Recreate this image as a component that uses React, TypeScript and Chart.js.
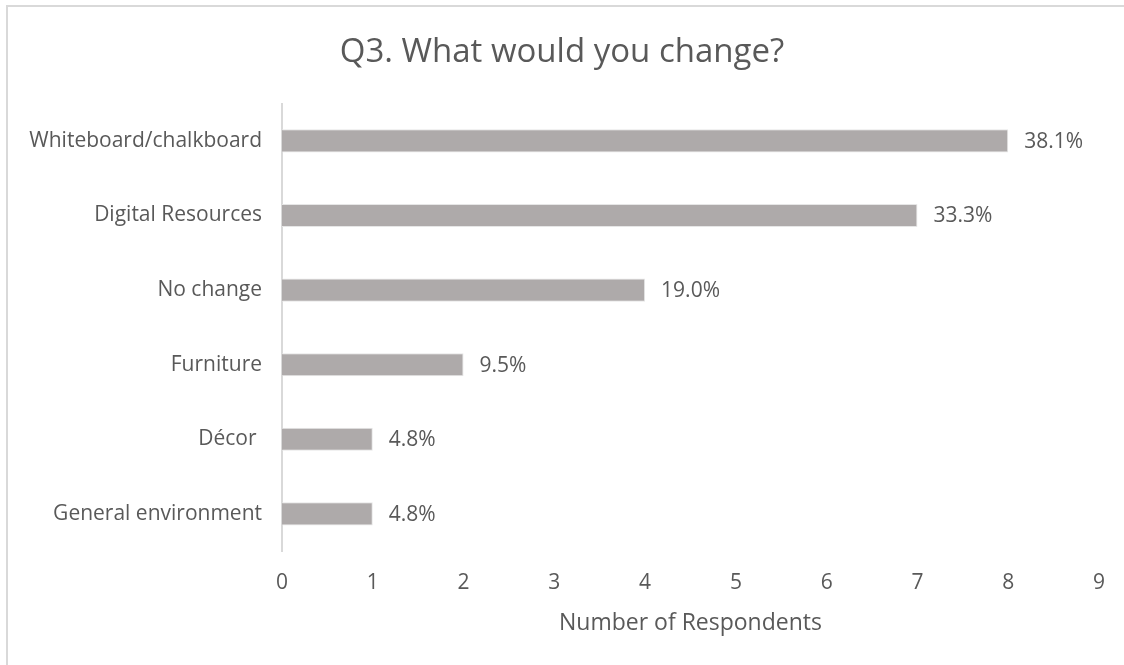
import React, { useEffect, useRef } from "react";
import { Chart, registerables } from "chart.js";

Chart.register(...registerables);

const categories = [
  "Whiteboard/chalkboard",
  "Digital Resources",
  "No change",
  "Furniture",
  "Décor ",
  "General environment",
];
const respondents = [8, 7, 4, 2, 1, 1];
const percentLabels = ["38.1%", "33.3%", "19.0%", "9.5%", "4.8%", "4.8%"];
const xTicks = [0, 1, 2, 3, 4, 5, 6, 7, 8, 9];

const FONT = "'Open Sans', 'DejaVu Sans', sans-serif";
const TEXT = "#595959";

const frame = {
  id: "frame",
  beforeDraw(chart: any) {
    const ctx = chart.ctx;
    ctx.save();
    ctx.fillStyle = "#ffffff";
    ctx.fillRect(0, 0, chart.width, chart.height);
    ctx.strokeStyle = "#D9D9D9";
    ctx.lineWidth = 2;
    ctx.beginPath();
    ctx.moveTo(7, chart.height);
    ctx.lineTo(7, 6);
    ctx.lineTo(chart.width, 6);
    ctx.stroke();
    ctx.restore();
  },
};

const valueLabels = {
  id: "valueLabels",
  afterDatasetsDraw(chart: any) {
    const ctx = chart.ctx;
    const meta = chart.getDatasetMeta(0);
    ctx.save();
    ctx.fillStyle = TEXT;
    ctx.font = `21px ${FONT}`;
    ctx.textAlign = "left";
    ctx.textBaseline = "middle";
    meta.data.forEach((bar: any, i: number) => {
      ctx.fillText(percentLabels[i], bar.x + 16, bar.y + 1);
    });
    ctx.restore();
  },
};

export default function App() {
  const ref = useRef<HTMLCanvasElement>(null);
  useEffect(() => {
    document.body.style.margin = "0";
    const chart = new Chart(ref.current!, {
      type: "bar",
      data: {
        labels: categories,
        datasets: [
          {
            data: respondents,
            backgroundColor: "#AEAAAA",
            borderColor: "#E6E6E6",
            borderWidth: 1,
            barPercentage: 0.31,
            categoryPercentage: 1,
          },
        ],
      },
      options: {
        indexAxis: "y",
        animation: false,
        responsive: false,
        layout: { padding: { left: 20, right: 20, top: 0, bottom: 28 } },
        plugins: {
          legend: { display: false },
          tooltip: { enabled: false },
          title: {
            display: true,
            text: "Q3. What would you change?",
            color: TEXT,
            font: { family: FONT, size: 33, weight: "normal" },
            padding: { top: 33, bottom: 31 },
          },
        },
        scales: {
          x: {
            min: 0,
            max: 9,
            afterBuildTicks(scale: any) {
              scale.ticks = xTicks.map((v) => ({ value: v }));
            },
            grid: { display: false, drawTicks: false },
            border: { display: false },
            ticks: {
              color: TEXT,
              font: { family: FONT, size: 21 },
              padding: 19,
              maxRotation: 0,
            },
            title: {
              display: true,
              text: "Number of Respondents",
              color: TEXT,
              font: { family: FONT, size: 23 },
              padding: { top: -5, bottom: 0 },
            },
          },
          y: {
            afterFit(scale: any) {
              scale.width = 262;
            },
            grid: { display: false, drawTicks: false },
            border: { display: true, color: "#D9D9D9", width: 2 },
            ticks: {
              color: TEXT,
              font: { family: FONT, size: 21 },
              padding: 20,
            },
          },
        },
      },
      plugins: [frame, valueLabels],
    });
    return () => chart.destroy();
  }, []);
  return (
    <div style={{ width: 1124, height: 665 }}>
      <canvas ref={ref} width={1124} height={665} style={{ display: "block" }} />
    </div>
  );
}
